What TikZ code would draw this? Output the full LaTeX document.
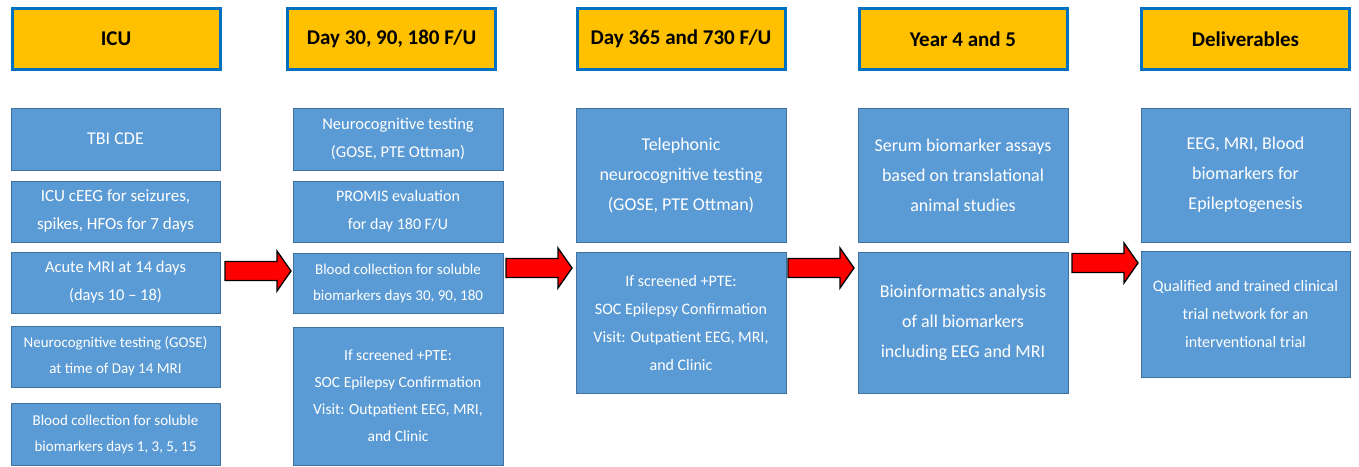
\documentclass[tikz,border=0pt]{standalone}
\usepackage{fontspec}
\setmainfont{Carlito}
\usepackage{xcolor}
\usepackage{tikz}
\usetikzlibrary{arrows,calc}

\definecolor{hdryellow}{RGB}{255,192,0}
\definecolor{hdrblue}{RGB}{0,112,192}
\definecolor{boxblue}{RGB}{91,155,213}
\definecolor{boxedge}{RGB}{65,113,156}
\definecolor{arrred}{RGB}{255,0,0}

\begin{document}
\begin{tikzpicture}[x=1pt,y=-1pt,
		hdr/.style={draw=hdrblue,line width=3pt,fill=hdryellow,inner sep=0pt,minimum width=208pt,minimum height=61pt,font=\bfseries\fontsize{21}{25}\selectfont},
		box/.style={draw=boxedge,line width=1pt,fill=boxblue,text=white,align=center,inner sep=0pt,minimum width=#1},
		box/.default=209pt,
		fbig/.style={font=\fontsize{18}{30}\selectfont},
		fmid/.style={font=\fontsize{16.5}{28}\selectfont},
		fsmall/.style={font=\fontsize{15}{26}\selectfont},
		redarrow/.style={draw=black,line width=1.3pt,fill=arrred,line join=miter,
			to path={($(\tikztostart)+(0,-9.5)$) -- ($(\tikztotarget)+(-14,-9.5)$) -- ($(\tikztotarget)+(-14,-20)$) -- (\tikztotarget) -- ($(\tikztotarget)+(-14,20)$) -- ($(\tikztotarget)+(-14,9.5)$) -- ($(\tikztostart)+(0,9.5)$) -- cycle}}]
			\useasboundingbox (0,0) rectangle (1359,466);
			\node[hdr] (hicu) at (116,39) {ICU};
			\node[hdr] (hday) at (391.5,39) {Day 30, 90, 180 F/U};
			\node[hdr] (hyear) at (681,39) {Day 365 and 730 F/U};
			\node[hdr] (hlate) at (963,39) {Year 4 and 5};
			\node[hdr] (hdel) at (1245.5,39) {Deliverables};

			\node[box,fbig,minimum height=62pt] (icuCde) at (115.5,139) {TBI CDE};
			\node[box,font=\fontsize{17}{28}\selectfont,minimum height=61pt] (icuEeg) at (115.5,211.5) {ICU cEEG for seizures,\\spikes, HFOs for 7 days};
			\node[box,fmid,minimum height=61pt] (icuMri) at (115.5,282.5) {Acute MRI at 14 days\\(days 10 -- 18)};
			\node[box,fsmall,minimum height=61pt] (icuNeuro) at (115.5,356.5) {Neurocognitive testing (GOSE)\\at time of Day 14 MRI};
			\node[box,fsmall,minimum height=62pt] (icuBlood) at (115.5,434) {Blood collection for soluble\\biomarkers days 1, 3, 5, 15};

			\node[box=210pt,fmid,minimum height=62pt] (dayNeuro) at (398,139) {Neurocognitive testing\\(GOSE, PTE Ottman)};
			\node[box=210pt,font=\fontsize{16}{28}\selectfont,minimum height=61pt] (dayPromis) at (398,211.5) {PROMIS evaluation\\for day 180 F/U};
			\node[box=210pt,fsmall,minimum height=60pt] (dayBlood) at (398,283) {Blood collection for soluble\\biomarkers days 30, 90, 180};
			\node[box=210pt,font=\fontsize{15.5}{27}\selectfont,minimum height=138pt] (dayPte) at (398,396) {If screened +PTE:\\SOC Epilepsy Confirmation\\Visit: Outpatient EEG, MRI,\\and Clinic};

			\node[box=210pt,fbig,minimum height=134pt] (yearTel) at (681,175) {Telephonic\\neurocognitive testing\\(GOSE, PTE Ottman)};
			\node[box=210pt,font=\fontsize{16}{28}\selectfont,minimum height=141pt] (yearPte) at (681,322.5) {If screened +PTE:\\SOC Epilepsy Confirmation\\Visit: Outpatient EEG, MRI,\\and Clinic};

			\node[box=210pt,fbig,minimum height=134pt] (lateSerum) at (963,175) {Serum biomarker assays\\based on translational\\animal studies};
			\node[box=210pt,fbig,minimum height=141pt] (lateBio) at (963,322.5) {Bioinformatics analysis\\of all biomarkers\\including EEG and MRI};

			\node[box,fbig,minimum height=134pt] (delMarkers) at (1245.5,175) {EEG, MRI, Blood\\biomarkers for\\Epileptogenesis};
			\node[box,font=\fontsize{16}{28}\selectfont,minimum height=126pt] (delNet) at (1245.5,314) {Qualified and trained clinical\\trial network for an\\interventional trial};

			\coordinate (a1s) at (225,271);
			\coordinate (a1e) at (291,271);
			\coordinate (a2s) at (506,268);
			\coordinate (a2e) at (572,268);
			\coordinate (a3s) at (788,268);
			\coordinate (a3e) at (854,268);
			\coordinate (a4s) at (1072,263);
			\coordinate (a4e) at (1138,263);
			\draw[redarrow] (a1s) to (a1e);
			\draw[redarrow] (a2s) to (a2e);
			\draw[redarrow] (a3s) to (a3e);
			\draw[redarrow] (a4s) to (a4e);
\end{tikzpicture}
\end{document}
